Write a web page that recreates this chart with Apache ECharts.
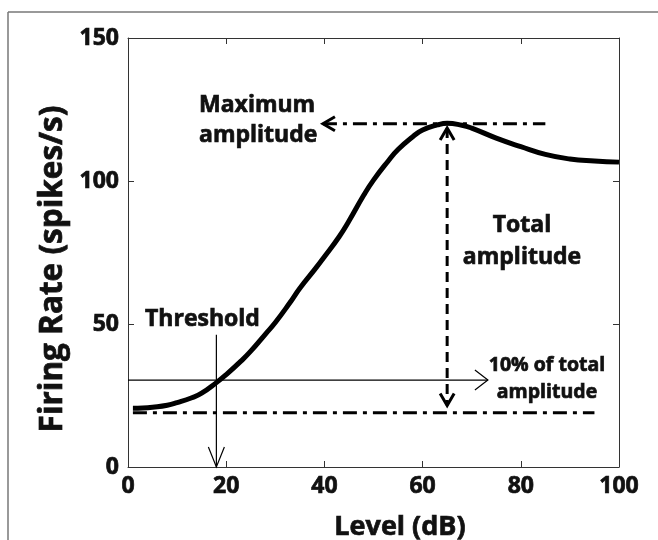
<!DOCTYPE html>
<html lang="en">
<head>
    <meta charset="UTF-8">
    <title>Rate-level function</title>
    <script src="https://cdn.jsdelivr.net/npm/echarts@6/dist/echarts.min.js"></script>
    <style>
        body { margin: 0; background: #fff; }
        #chart { width: 658px; height: 540px; }
    </style>
</head>
<body>
<div id="chart"></div>
<script>
    // rate-level curve
    const levels = [1, 3, 5, 8, 10, 13, 15, 18, 20, 23, 25, 28, 30, 33, 35, 38, 40, 43, 45, 48, 50, 53, 55, 58, 60, 63, 65, 68, 70, 75, 80, 85, 90, 95, 100];
    const firingRate = [20.5, 20.6, 20.9, 21.6, 22.5, 24.2, 25.8, 29.5, 32.3, 37, 40.5, 46.5, 50.5, 57.5, 62.5, 69, 73.5, 80.5, 86, 95, 100.3, 107, 111, 115.5, 117.8, 119.6, 120.2, 119.5, 118.5, 115, 112, 109.3, 107.7, 107, 106.6];

    // annotation lines
    const baselineLine = [[1, 19], [95, 19]];
    const maxLine = [[39.7, 120], [85, 120]];
    const totalAmpLine = [[65, 118.5], [65, 21.5]];
    const tenPctLine = [[0, 30.4], [73.3, 30.4]];
    const thresholdLine = [[18, 46.2], [18, 0]];

    // arrow heads: position + direction
    const arrowPos = [[39.7, 120], [65, 118.5], [65, 21.5], [73.3, 30.4], [18, 0]];
    const arrowDir = ['left', 'up', 'down', 'right', 'down'];
    const arrowThick = [true, true, true, false, false];

    const font = "'Open Sans', 'DejaVu Sans', sans-serif";
    const chart = echarts.init(document.getElementById('chart'));

    const dashDot = { color: '#000', width: 3, type: [14, 6, 4, 6] };

    function txt(x, y, text, size, align, extra) {
        return Object.assign({
            type: 'text', x: x, y: y,
            style: {
                text: text, fontSize: size, fontWeight: 'bold', fontFamily: font,
                fill: '#111', stroke: '#111', lineWidth: 0.7,
                align: align, verticalAlign: 'middle'
            }
        }, extra || {});
    }

    function lineSeries(data, style) {
        return {
            type: 'line',
            data: data,
            symbol: 'none',
            silent: true,
            clip: false,
            lineStyle: style
        };
    }

    const tickLabel = {
        fontSize: 23, fontWeight: 'bold', color: '#111', fontFamily: font,
        textBorderColor: '#111', textBorderWidth: 0.7
    };
    // onZero off, otherwise the mirrored top/right axes jump onto the zero lines
    const axisLine = { show: true, onZero: false, lineStyle: { color: '#333', width: 1 } };
    const tick = { show: true, inside: true, length: 6, lineStyle: { color: '#333' } };

    const option = {
        animation: false,
        backgroundColor: '#fff',
        grid: { left: 128, right: 39, top: 38, bottom: 73 },
        xAxis: [
            {
                type: 'value', min: 0, max: 100, interval: 20, position: 'bottom',
                axisLine: axisLine, axisTick: tick,
                axisLabel: Object.assign({ margin: 8 }, tickLabel),
                splitLine: { show: false }
            },
            {
                type: 'value', min: 0, max: 100, interval: 20, position: 'top',
                axisLine: axisLine, axisTick: tick,
                axisLabel: { show: false },
                splitLine: { show: false }
            }
        ],
        yAxis: [
            {
                type: 'value', min: 0, max: 150, interval: 50, position: 'left',
                axisLine: axisLine, axisTick: tick,
                axisLabel: Object.assign({ margin: 9 }, tickLabel),
                splitLine: { show: false }
            },
            {
                type: 'value', min: 0, max: 150, interval: 50, position: 'right',
                axisLine: axisLine, axisTick: tick,
                axisLabel: { show: false },
                splitLine: { show: false }
            }
        ],
        graphic: [
            // frame of the cropped figure
            { type: 'line', shape: { x1: 8, y1: 12, x2: 658, y2: 12 }, style: { stroke: '#777', lineWidth: 1.5 } },
            { type: 'line', shape: { x1: 8, y1: 12, x2: 8, y2: 540 }, style: { stroke: '#777', lineWidth: 1.5 } },
            // axis names
            txt(400, 527, 'Level (dB)', 27, 'center'),
            txt(53, 269, 'Firing Rate (spikes/s)', 31.5, 'center', { rotation: Math.PI / 2 }),
            // annotations
            txt(199, 105, 'Maximum', 23, 'left'),
            txt(199, 135, 'amplitude', 23, 'left'),
            txt(522, 225, 'Total', 23, 'center'),
            txt(522, 257, 'amplitude', 23, 'center'),
            txt(145, 319, 'Threshold', 23, 'left'),
            txt(547, 365, '10% of total', 19.5, 'center'),
            txt(547, 392, 'amplitude', 19.5, 'center')
        ],
        series: [
            lineSeries(baselineLine, dashDot),
            lineSeries(maxLine, dashDot),
            lineSeries(totalAmpLine, { color: '#000', width: 3, type: [10, 6] }),
            lineSeries(tenPctLine, { color: '#000', width: 1.2 }),
            lineSeries(thresholdLine, { color: '#000', width: 1.2 }),
            {
                type: 'line',
                data: levels.map((l, i) => [l, firingRate[i]]),
                smooth: 0.5,
                symbol: 'none',
                silent: true,
                lineStyle: { color: '#000', width: 5, cap: 'butt' }
            },
            {
                type: 'custom',
                silent: true,
                clip: false,
                data: arrowPos,
                renderItem: function (params, api) {
                    const i = params.dataIndex;
                    const p = api.coord([api.value(0), api.value(1)]);
                    const thick = arrowThick[i];
                    let len = thick ? 12 : 13;
                    let hw = thick ? 7 : 10;
                    if (!thick && arrowDir[i] === 'down') { len = 20; hw = 8; }
                    let pts;
                    if (arrowDir[i] === 'left') pts = [[p[0] + len, p[1] - hw], p, [p[0] + len, p[1] + hw]];
                    else if (arrowDir[i] === 'right') pts = [[p[0] - len, p[1] - hw], p, [p[0] - len, p[1] + hw]];
                    else if (arrowDir[i] === 'up') pts = [[p[0] - hw, p[1] + len], p, [p[0] + hw, p[1] + len]];
                    else pts = [[p[0] - hw, p[1] - len], p, [p[0] + hw, p[1] - len]];
                    return {
                        type: 'polyline',
                        shape: { points: pts },
                        style: { stroke: '#000', lineWidth: thick ? 3 : 1.2, fill: null }
                    };
                }
            }
        ]
    };

    chart.setOption(option);
</script>
</body>
</html>
